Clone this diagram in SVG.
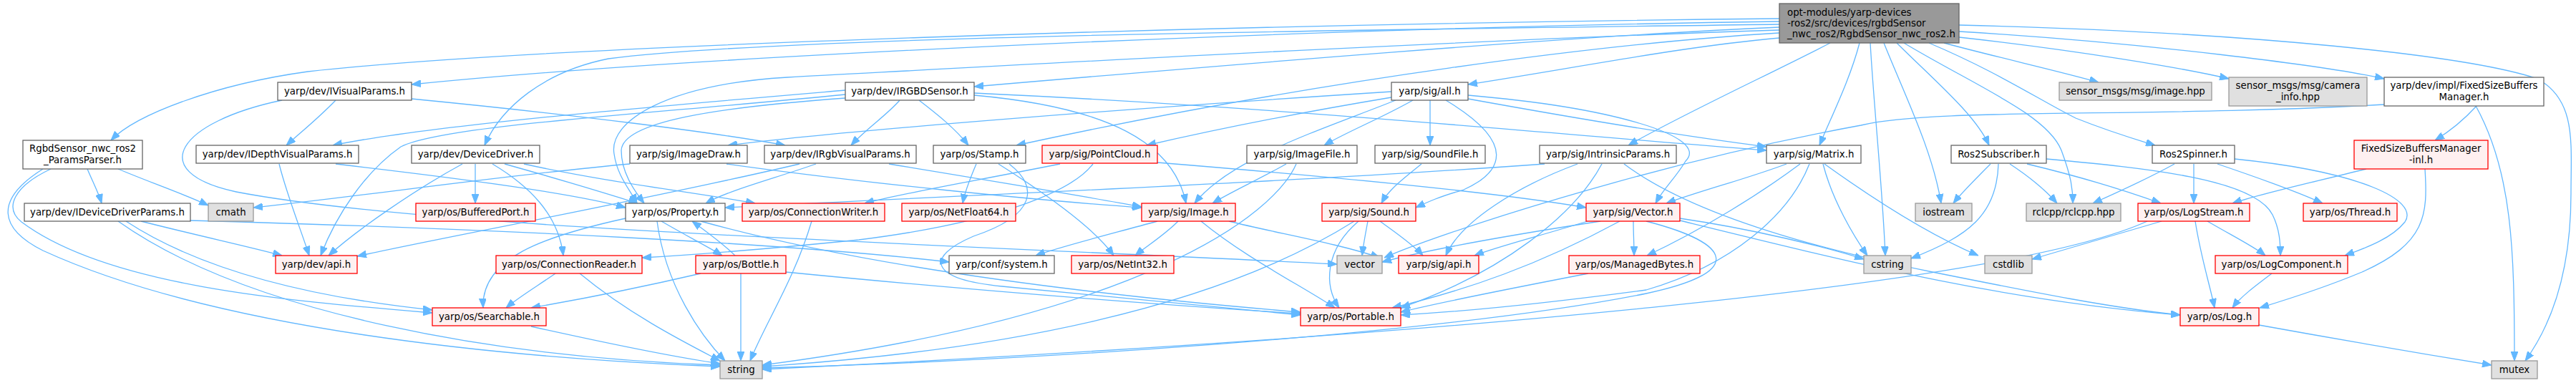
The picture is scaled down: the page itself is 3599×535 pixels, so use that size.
<svg xmlns="http://www.w3.org/2000/svg" width="3599" height="535" viewBox="0 0 3599 535">
<style>
.n rect{stroke-width:1.3}
.w rect{fill:#ffffff;stroke:#666666}
.g rect{fill:#e0e0e0;stroke:#999999}
.r rect{fill:#fff0f0;stroke:#ff0000}
.root rect{fill:#999999;stroke:#666666}
text{font-family:"DejaVu Sans","Liberation Sans",sans-serif;font-size:13.33px;fill:#000000;text-anchor:middle}
text.l{text-anchor:start}
#edges path{fill:none;stroke:#63b8ff;stroke-width:1.3;marker-end:url(#ah)}
</style>
<defs>
<marker id="ah" markerUnits="userSpaceOnUse" markerWidth="13" markerHeight="10" refX="13" refY="5" orient="auto" viewBox="0 0 13 10">
<path d="M0,0 L13,5 L0,10 z" fill="#63b8ff" stroke="#63b8ff"/>
</marker>
</defs>
<rect x="0" y="0" width="3599" height="535" fill="#ffffff"/>
<g id="edges">
<path d="M2486,30 C1900,38 1000,75 575,118"/>
<path d="M2486,26 C1700,34 750,64 430,100 C300,118 190,160 155,196"/>
<path d="M2486,34 C1900,42 1100,50 850,82 C760,100 700,150 677,203"/>
<path d="M2486,38 C2200,50 1700,92 1361,121"/>
<path d="M2486,46 C2250,60 1850,110 1420,203"/>
<path d="M2486,53 C2350,65 2200,95 2051,118"/>
<path d="M2486,42 C2000,58 1400,92 1100,108 C930,118 850,170 858,215 C862,245 880,265 890,284"/>
<path d="M2557,60 C2480,100 2350,160 2275,203"/>
<path d="M2598,60 C2585,110 2560,160 2542,203"/>
<path d="M2613,60 C2618,150 2630,260 2634,357"/>
<path d="M2632,60 C2660,130 2700,210 2712,284"/>
<path d="M2650,60 C2700,110 2760,160 2779,203"/>
<path d="M2660,60 C2760,120 2860,160 2880,210 C2893,245 2896,262 2896,284"/>
<path d="M2695,60 C2790,100 2850,140 2900,165 C2950,185 2985,195 3011,203"/>
<path d="M2716,60 C2790,80 2880,100 2932,115"/>
<path d="M2737,52 C2900,70 3050,95 3114,110"/>
<path d="M2737,44 C3000,60 3250,92 3331,110"/>
<path d="M2737,35 C3150,45 3450,78 3545,110 C3600,140 3592,200 3592,270 C3592,390 3560,460 3528,504"/>
<path d="M575,138 C800,160 1000,185 1097,203"/>
<path d="M469,140 C445,165 420,185 400,203"/>
<path d="M394,140 C250,170 200,240 330,268 C600,320 1300,340 1868,369"/>
<path d="M1181,126 C900,150 600,175 465,203"/>
<path d="M1257,140 C1240,160 1210,180 1189,203"/>
<path d="M1284,140 C1310,160 1335,180 1353,203"/>
<path d="M1181,132 C900,160 620,175 560,205 C510,240 470,300 448,357"/>
<path d="M1181,137 C1000,150 870,170 868,210 C868,240 885,265 900,284"/>
<path d="M1361,133 C1550,150 1640,200 1657,284"/>
<path d="M1361,130 C1800,150 2200,190 2468,210"/>
<path d="M1974,140 C1930,165 1880,185 1850,203"/>
<path d="M1998,140 C1998,160 1998,185 1998,203"/>
<path d="M2020,140 C2120,200 2100,240 2045,265 C2010,275 1995,282 1978,290"/>
<path d="M2051,133 C2250,150 2390,190 2355,225 C2340,250 2325,262 2313,284"/>
<path d="M2051,138 C2200,165 2350,190 2468,205"/>
<path d="M1944,136 C1800,160 1680,185 1602,203"/>
<path d="M1950,140 C1850,180 1720,220 1669,284"/>
<path d="M1944,128 C1600,150 1200,180 1017,203"/>
<path d="M3460,148 C3440,170 3420,185 3402,196"/>
<path d="M3459,148 C3510,240 3513,350 3513,504"/>
<path d="M3331,146 C3000,165 2700,150 2600,175 C2300,230 2000,330 1934,360"/>
<path d="M122,236 C130,255 138,270 142,284"/>
<path d="M165,236 C210,255 260,272 291,287"/>
<path d="M71,236 C20,260 5,290 30,310 C150,400 400,420 604,437"/>
<path d="M60,236 C-10,280 0,320 60,350 C300,460 700,500 1006,512"/>
<path d="M390,229 C400,270 420,320 432,357"/>
<path d="M469,229 C650,250 800,270 874,290"/>
<path d="M646,229 C580,265 500,320 459,357"/>
<path d="M664,229 C664,250 664,265 664,284"/>
<path d="M688,229 C740,260 780,300 787,357"/>
<path d="M705,229 C780,250 840,268 891,284"/>
<path d="M732,229 C850,255 980,270 1055,284"/>
<path d="M880,229 C700,245 500,275 354,290"/>
<path d="M1015,229 C1200,255 1450,280 1595,290"/>
<path d="M1117,229 C900,280 600,335 499,358"/>
<path d="M1140,229 C1080,250 1020,265 986,284"/>
<path d="M1242,229 C1400,255 1520,275 1595,289"/>
<path d="M1364,229 C1355,250 1348,268 1345,284"/>
<path d="M1395,229 C1460,270 1530,320 1556,357"/>
<path d="M1410,229 C1450,260 1450,300 1360,330 C1290,360 1300,390 1400,400 C1550,415 1700,430 1817,440"/>
<path d="M1481,229 C1350,255 1260,270 1208,284"/>
<path d="M1527,229 C1500,265 1400,310 1200,335 C1050,350 950,357 897,360"/>
<path d="M1617,227 C1900,250 2100,270 2216,290"/>
<path d="M1797,229 C1760,250 1720,268 1694,284"/>
<path d="M1811,229 C1780,300 1600,440 1065,510"/>
<path d="M1986,229 C1960,250 1940,265 1930,284"/>
<path d="M2204,229 C2120,260 2040,310 2020,357"/>
<path d="M2238,229 C2200,300 2100,380 1957,430"/>
<path d="M2158,229 C1800,255 1300,275 1013,290"/>
<path d="M2269,229 C2350,290 2500,340 2700,380 C2850,410 2950,430 3046,440"/>
<path d="M2547,229 C2560,280 2590,330 2609,357"/>
<path d="M2549,229 C2620,280 2700,330 2764,357"/>
<path d="M2515,229 C2460,270 2380,320 2301,357"/>
<path d="M2496,229 C2440,250 2380,265 2328,284"/>
<path d="M2528,229 C2500,300 2420,370 2300,405 C2150,425 2050,435 1957,440"/>
<path d="M2781,229 C2760,250 2740,270 2729,284"/>
<path d="M2792,229 C2790,300 2750,330 2670,361"/>
<path d="M2808,229 C2840,250 2860,268 2874,284"/>
<path d="M2832,229 C2920,250 2980,270 3019,284"/>
<path d="M2859,222 C3000,235 3150,250 3175,300 C3185,320 3186,340 3186,357"/>
<path d="M3038,229 C3000,250 2960,268 2924,284"/>
<path d="M3065,229 C3065,250 3065,265 3065,284"/>
<path d="M3098,229 C3160,250 3210,268 3245,284"/>
<path d="M3122,222 C3300,240 3380,280 3360,310 C3340,335 3300,348 3276,357"/>
<path d="M3306,236 C3230,255 3160,270 3119,284"/>
<path d="M3388,236 C3392,300 3390,340 3300,380 C3240,405 3190,420 3157,430"/>
<path d="M197,309 C280,330 350,345 394,357"/>
<path d="M176,309 C300,390 480,420 604,433"/>
<path d="M165,309 C350,440 700,500 1006,510"/>
<path d="M266,308 C700,320 1100,340 1326,366"/>
<path d="M874,305 C760,330 672,360 675,430"/>
<path d="M918,309 C930,400 980,470 1013,504"/>
<path d="M924,309 C960,330 990,345 1009,357"/>
<path d="M979,309 C1200,370 1500,410 1817,436"/>
<path d="M1027,357 C1010,340 985,322 967,309"/>
<path d="M1134,309 C1110,390 1070,450 1048,504"/>
<path d="M1617,309 C1540,330 1480,345 1447,357"/>
<path d="M1646,309 C1625,330 1600,345 1586,357"/>
<path d="M1678,309 C1740,360 1820,400 1865,430"/>
<path d="M1717,309 C1780,325 1870,340 1928,360"/>
<path d="M1911,309 C1908,325 1905,340 1903,357"/>
<path d="M1928,309 C1950,325 1975,342 1988,357"/>
<path d="M1898,309 C1850,350 1850,400 1871,430"/>
<path d="M1892,309 C1700,430 1400,490 1065,512"/>
<path d="M2236,309 C2100,330 1990,350 1931,366"/>
<path d="M2218,309 C2150,330 2090,345 2060,357"/>
<path d="M2282,309 C2282,325 2283,340 2283,357"/>
<path d="M2263,309 C2150,370 2050,405 1945,430"/>
<path d="M2347,305 C2450,320 2550,345 2604,362"/>
<path d="M2347,308 C2600,370 2800,420 3046,440"/>
<path d="M2300,309 C2420,340 2440,380 2300,410 C2000,470 1400,505 1065,514"/>
<path d="M3000,309 C2800,400 2000,470 1065,516"/>
<path d="M3020,309 C2950,330 2880,350 2839,362"/>
<path d="M3084,309 C3120,330 3150,345 3165,357"/>
<path d="M3067,309 C3075,360 3088,400 3094,430"/>
<path d="M776,382 C750,400 725,415 707,430"/>
<path d="M810,382 C880,440 960,480 1006,504"/>
<path d="M979,382 C880,405 800,420 742,430"/>
<path d="M1035,382 C1035,420 1035,470 1035,504"/>
<path d="M1098,380 C1300,400 1600,425 1817,438"/>
<path d="M2219,382 C2100,405 2000,425 1957,436"/>
<path d="M3174,382 C3150,400 3130,415 3119,430"/>
<path d="M742,456 C850,480 950,500 1006,508"/>
<path d="M3156,454 C3300,480 3420,500 3481,510"/>
</g>
<g id="root" class="n root"><rect x="2486" y="5" width="251" height="55"/><text class="l" x="2497" y="22">opt-modules/yarp-devices</text><text class="l" x="2497" y="37">-ros2/src/devices/rgbdSensor</text><text class="l" x="2497" y="52">_nwc_ros2/RgbdSensor_nwc_ros2.h</text></g>
<g id="n_ivp" class="n w"><rect x="388" y="115" width="187" height="25"/><text x="481.5" y="132">yarp/dev/IVisualParams.h</text></g>
<g id="n_irgbd" class="n w"><rect x="1181" y="115" width="180" height="25"/><text x="1271" y="132">yarp/dev/IRGBDSensor.h</text></g>
<g id="n_all" class="n w"><rect x="1944" y="115" width="107" height="25"/><text x="1997.5" y="132">yarp/sig/all.h</text></g>
<g id="n_imghpp" class="n g"><rect x="2877" y="115" width="213" height="25"/><text x="2983.5" y="132">sensor_msgs/msg/image.hpp</text></g>
<g id="n_caminfo" class="n g"><rect x="3114" y="108" width="193" height="40"/><text x="3210.5" y="124">sensor_msgs/msg/camera</text><text x="3210.5" y="140">_info.hpp</text></g>
<g id="n_fsbm" class="n w"><rect x="3331" y="108" width="223" height="40"/><text x="3442.5" y="124">yarp/dev/impl/FixedSizeBuffers</text><text x="3442.5" y="140">Manager.h</text></g>
<g id="n_pp" class="n w"><rect x="32" y="196" width="167" height="40"/><text x="115.5" y="212">RgbdSensor_nwc_ros2</text><text x="115.5" y="228">_ParamsParser.h</text></g>
<g id="n_idvp" class="n w"><rect x="274" y="203" width="227" height="25"/><text x="387.5" y="220">yarp/dev/IDepthVisualParams.h</text></g>
<g id="n_dd" class="n w"><rect x="575" y="203" width="179" height="25"/><text x="664.5" y="220">yarp/dev/DeviceDriver.h</text></g>
<g id="n_idraw" class="n w"><rect x="880" y="203" width="164" height="25"/><text x="962" y="220">yarp/sig/ImageDraw.h</text></g>
<g id="n_irvp" class="n w"><rect x="1068" y="203" width="212" height="25"/><text x="1174" y="220">yarp/dev/IRgbVisualParams.h</text></g>
<g id="n_stamp" class="n w"><rect x="1304" y="203" width="129" height="25"/><text x="1368.5" y="220">yarp/os/Stamp.h</text></g>
<g id="n_pc" class="n r"><rect x="1456" y="203" width="161" height="25"/><text x="1536.5" y="220">yarp/sig/PointCloud.h</text></g>
<g id="n_ifile" class="n w"><rect x="1742" y="203" width="154" height="25"/><text x="1819" y="220">yarp/sig/ImageFile.h</text></g>
<g id="n_sfile" class="n w"><rect x="1921" y="203" width="154" height="25"/><text x="1998" y="220">yarp/sig/SoundFile.h</text></g>
<g id="n_ip" class="n w"><rect x="2151" y="203" width="191" height="25"/><text x="2246.5" y="220">yarp/sig/IntrinsicParams.h</text></g>
<g id="n_matrix" class="n w"><rect x="2468" y="203" width="132" height="25"/><text x="2534" y="220">yarp/sig/Matrix.h</text></g>
<g id="n_r2sub" class="n w"><rect x="2726" y="203" width="133" height="25"/><text x="2792.5" y="220">Ros2Subscriber.h</text></g>
<g id="n_r2sp" class="n w"><rect x="3007" y="203" width="115" height="25"/><text x="3064.5" y="220">Ros2Spinner.h</text></g>
<g id="n_fsbminl" class="n r"><rect x="3289" y="196" width="187" height="40"/><text x="3382.5" y="212">FixedSizeBuffersManager</text><text x="3382.5" y="228">-inl.h</text></g>
<g id="n_iddp" class="n w"><rect x="34" y="284" width="232" height="25"/><text x="150" y="301">yarp/dev/IDeviceDriverParams.h</text></g>
<g id="n_cmath" class="n g"><rect x="291" y="284" width="63" height="25"/><text x="322.5" y="301">cmath</text></g>
<g id="n_bp" class="n r"><rect x="581" y="284" width="167" height="25"/><text x="664.5" y="301">yarp/os/BufferedPort.h</text></g>
<g id="n_prop" class="n w"><rect x="874" y="284" width="139" height="25"/><text x="943.5" y="301">yarp/os/Property.h</text></g>
<g id="n_cw" class="n r"><rect x="1037" y="284" width="199" height="25"/><text x="1136.5" y="301">yarp/os/ConnectionWriter.h</text></g>
<g id="n_nf64" class="n r"><rect x="1260" y="284" width="159" height="25"/><text x="1339.5" y="301">yarp/os/NetFloat64.h</text></g>
<g id="n_image" class="n r"><rect x="1595" y="284" width="131" height="25"/><text x="1660.5" y="301">yarp/sig/Image.h</text></g>
<g id="n_sound" class="n r"><rect x="1847" y="284" width="131" height="25"/><text x="1912.5" y="301">yarp/sig/Sound.h</text></g>
<g id="n_vec" class="n r"><rect x="2216" y="284" width="131" height="25"/><text x="2281.5" y="301">yarp/sig/Vector.h</text></g>
<g id="n_iostream" class="n g"><rect x="2676" y="284" width="79" height="25"/><text x="2715.5" y="301">iostream</text></g>
<g id="n_rclcpp" class="n g"><rect x="2831" y="284" width="132" height="25"/><text x="2897" y="301">rclcpp/rclcpp.hpp</text></g>
<g id="n_logstream" class="n r"><rect x="2987" y="284" width="156" height="25"/><text x="3065" y="301">yarp/os/LogStream.h</text></g>
<g id="n_thread" class="n r"><rect x="3218" y="284" width="131" height="25"/><text x="3283.5" y="301">yarp/os/Thread.h</text></g>
<g id="n_devapi" class="n r"><rect x="385" y="357" width="114" height="25"/><text x="442" y="374">yarp/dev/api.h</text></g>
<g id="n_cr" class="n r"><rect x="693" y="357" width="204" height="25"/><text x="795" y="374">yarp/os/ConnectionReader.h</text></g>
<g id="n_bottle" class="n r"><rect x="972" y="357" width="126" height="25"/><text x="1035" y="374">yarp/os/Bottle.h</text></g>
<g id="n_system" class="n w"><rect x="1326" y="357" width="147" height="25"/><text x="1399.5" y="374">yarp/conf/system.h</text></g>
<g id="n_ni32" class="n r"><rect x="1497" y="357" width="143" height="25"/><text x="1568.5" y="374">yarp/os/NetInt32.h</text></g>
<g id="n_vector" class="n g"><rect x="1868" y="357" width="63" height="25"/><text x="1899.5" y="374">vector</text></g>
<g id="n_sigapi" class="n r"><rect x="1954" y="357" width="112" height="25"/><text x="2010" y="374">yarp/sig/api.h</text></g>
<g id="n_mb" class="n r"><rect x="2192" y="357" width="183" height="25"/><text x="2283.5" y="374">yarp/os/ManagedBytes.h</text></g>
<g id="n_cstring" class="n g"><rect x="2604" y="357" width="66" height="25"/><text x="2637" y="374">cstring</text></g>
<g id="n_cstdlib" class="n g"><rect x="2773" y="357" width="66" height="25"/><text x="2806" y="374">cstdlib</text></g>
<g id="n_logcomp" class="n r"><rect x="3095" y="357" width="185" height="25"/><text x="3187.5" y="374">yarp/os/LogComponent.h</text></g>
<g id="n_searchable" class="n r"><rect x="604" y="430" width="159" height="25"/><text x="683.5" y="447">yarp/os/Searchable.h</text></g>
<g id="n_portable" class="n r"><rect x="1817" y="430" width="140" height="25"/><text x="1887" y="447">yarp/os/Portable.h</text></g>
<g id="n_log" class="n r"><rect x="3046" y="430" width="110" height="25"/><text x="3101" y="447">yarp/os/Log.h</text></g>
<g id="n_string" class="n g"><rect x="1006" y="504" width="59" height="25"/><text x="1035.5" y="521">string</text></g>
<g id="n_mutex" class="n g"><rect x="3481" y="504" width="64" height="25"/><text x="3513" y="521">mutex</text></g>
</svg>
